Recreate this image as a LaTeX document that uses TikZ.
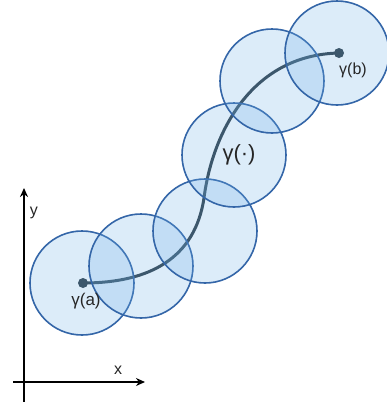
\documentclass[tikz,border=0pt]{standalone}
\usepackage{fontspec}
\setmainfont{Liberation Sans}
\usetikzlibrary{arrows.meta}
\definecolor{ringline}{RGB}{52,102,168}
\definecolor{ringfill}{RGB}{110,175,232}
\definecolor{curvecol}{RGB}{45,60,70}
\tikzset{
  ring/.style={circle, draw=ringline, line width=1.6pt, fill=ringfill, fill opacity=0.24, minimum size=104pt, inner sep=0pt},
  dotpt/.style={circle, fill=curvecol, minimum size=10pt, inner sep=0pt},
  axis/.style={line width=1.8pt, -{Stealth[length=9pt,width=8pt]}},
  lbl/.style={font=\fontsize{16}{19}\selectfont, text=black!85},
}
\begin{document}
\begin{tikzpicture}[x=1pt,y=-1pt]
\useasboundingbox (0,0) rectangle (386,402);
% axes
\coordinate (yb) at (24,402);
\coordinate (yt) at (24,188);
\coordinate (xl) at (13,382);
\coordinate (xr) at (145,382);
\draw[axis] (yb) -- (yt);
\draw[axis] (xl) -- (xr);
\node[lbl] (ylab) at (34,213) {y};
\node[lbl] (xlab) at (118,370) {x};
% curve
\node[dotpt] (A) at (83,283) {};
\node[dotpt] (B) at (339,53) {};
\coordinate (M) at (204,198);
\draw[curvecol, line width=3pt, line cap=round] (A.center) .. controls (150,283) and (195,258) .. (M) .. controls (212,135) and (250,55) .. (B.center);
% circles
\node[ring] (c1) at (82,283) {};
\node[ring] (c2) at (141,266) {};
\node[ring] (c3) at (205,231) {};
\node[ring] (c4) at (234,155) {};
\node[ring] (c5) at (272,81) {};
\node[ring] (c6) at (337,53) {};
% labels
\node[lbl, font=\fontsize{17}{20}\selectfont] (la) at (86,301) {γ(a)};
\node[lbl] (lb) at (353,70) {γ(b)};
\node[lbl, font=\fontsize{22}{26}\selectfont] (lm) at (239,155) {γ(·)};
\end{tikzpicture}
\end{document}
